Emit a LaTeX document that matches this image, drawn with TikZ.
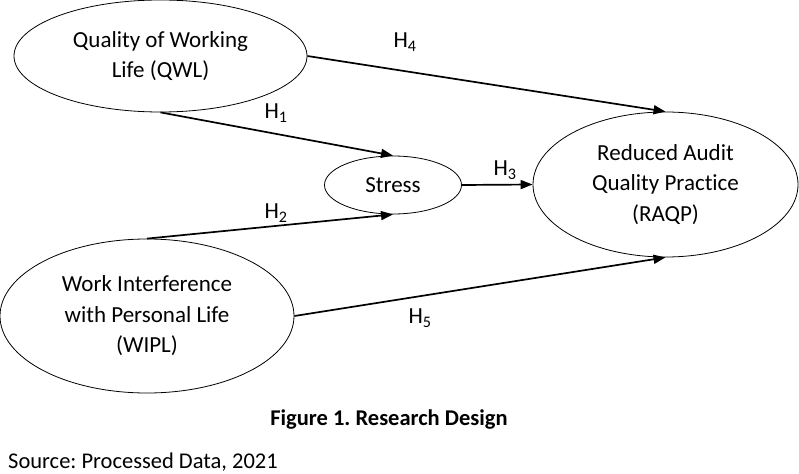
\documentclass[tikz,border=0pt]{standalone}
\usepackage{fontspec}
\setmainfont[Ligatures={NoCommon}]{Carlito}
\usepackage{tikz}
\usetikzlibrary{shapes, arrows.meta}
\frenchspacing

\begin{document}
\begin{tikzpicture}[x=1pt, y=-1pt,
    var/.style={ellipse, draw, line width=0.8pt, inner sep=0pt, align=center, font=\fontsize{23}{30.5}\selectfont},
    hyp/.style={-{Triangle[length=12pt, width=9pt]}, line width=1.7pt},
    hlabel/.style={font=\fontsize{23}{26}\selectfont}]

    \useasboundingbox (0,0) rectangle (799,473);

    % 1. CONSTRUCTS (ellipses)
    \node[var, minimum width=293pt, minimum height=112pt] (qwl) at (160.5,56) {Quality of Working\\Life (QWL)};
    \node[var, minimum width=137pt, minimum height=58pt] (stress) at (393,185) {Stress};
    \node[var, minimum width=265pt, minimum height=145pt] (raqp) at (665.5,184.5) {Reduced Audit\\Quality Practice\\(RAQP)};
    \node[var, minimum width=294pt, minimum height=154pt] (wipl) at (147,316) {Work Interference\\with Personal Life\\(WIPL)};

    % 2. HYPOTHESIS PATHS
    \draw[hyp] (qwl.east) -- (raqp.north);
    \draw[hyp] (qwl.south) -- (stress.north);
    \draw[hyp] (wipl.north) -- (stress.south);
    \draw[hyp] (stress.east) -- (raqp.west);
    \draw[hyp] (wipl.east) -- (raqp.south);

    % 3. PATH LABELS
    \node[hlabel] (h4) at (405,42) {H\textsubscript{4}};
    \node[hlabel] (h1) at (276,113) {H\textsubscript{1}};
    \node[hlabel] (h2) at (276,213) {H\textsubscript{2}};
    \node[hlabel] (h3) at (505,170) {H\textsubscript{3}};
    \node[hlabel] (h5) at (420,318) {H\textsubscript{5}};

    % 4. CAPTION AND SOURCE
    \node[font=\fontsize{22.5}{26}\selectfont\bfseries] (caption) at (389,420) {Figure 1. Research Design};
    \node[anchor=base west, inner sep=0pt, font=\fontsize{22.5}{26}\selectfont] (source) at (8,468) {Source: Processed Data, 2021};

\end{tikzpicture}
\end{document}
